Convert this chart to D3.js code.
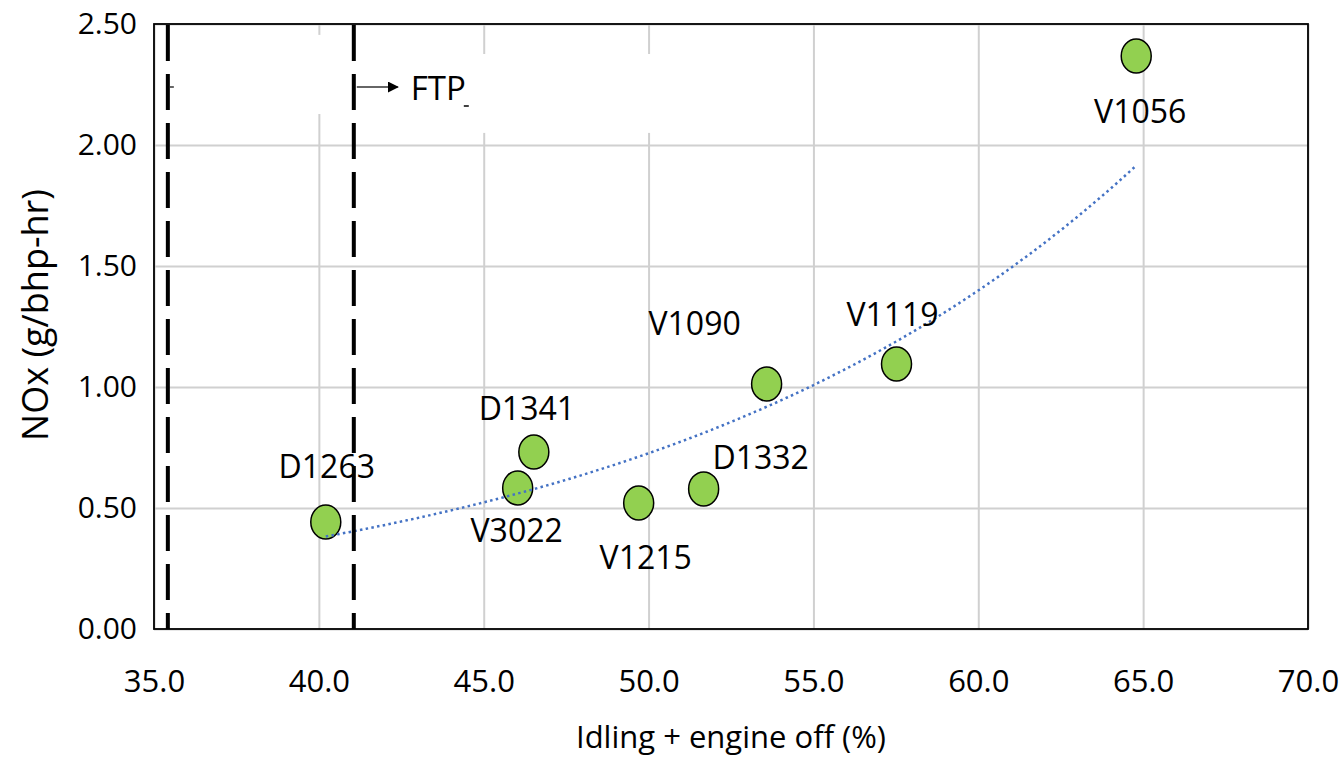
<!DOCTYPE html>
<html lang="en">
<head>
<meta charset="UTF-8">
<title>NOx vs idling + engine off</title>
<script src="https://d3js.org/d3.v7.min.js"></script>
<style>
  body { margin: 0; background: #fff; font-family: "Open Sans", sans-serif; }
  .grid line { stroke: #d0d0d0; stroke-width: 2px; }
  .grid path { display: none; }
  .axis path { display: none; }
  .axis text { fill: #000; font-family: "Open Sans", sans-serif; }
  .point { fill: #92d050; stroke: #000; stroke-width: 1.5px; }
  .point-label { font-size: 32px; fill: #000; }
  .trend { fill: none; stroke: #4472c4; stroke-width: 2.5px; stroke-dasharray: 2.5 3.3; }
  .ftp-line { stroke: #000; stroke-width: 4px; stroke-dasharray: 36 13; }
</style>
</head>
<body>
<svg width="1343" height="757"></svg>
<script>
// data
const vehicles  = ["D1263", "V3022", "D1341", "V1215", "D1332", "V1090", "V1119", "V1056"];
const idlingPct = [40.21, 46.03, 46.52, 49.70, 51.67, 53.58, 57.52, 64.79];
const noxValues = [0.442, 0.583, 0.731, 0.521, 0.579, 1.012, 1.095, 2.368];
const xTicks = [35, 40, 45, 50, 55, 60, 65, 70];
const yTicks = [0, 0.5, 1.0, 1.5, 2.0, 2.5];
const ftpBounds = [35.42, 41.06];

// label placement (pixels from point centre, baseline)
const labelOffsets = [[1, -44], [-1, 54], [-7, -32], [7, 66], [57, -20], [-72, -49], [-4, -38], [4, 67]];

const mLeft = 154, mRight = 1308, mTop = 24, mBottom = 629;
const svg = d3.select("svg");

const x = d3.scaleLinear().domain([35, 70]).range([mLeft, mRight]);
const y = d3.scaleLinear().domain([0, 2.5]).range([mBottom, mTop]);

// gridlines
svg.append("g").attr("class", "grid")
    .attr("transform", `translate(0,${mBottom})`)
    .call(d3.axisBottom(x).tickValues(xTicks).tickSize(-(mBottom - mTop)).tickFormat(""));
svg.append("g").attr("class", "grid")
    .attr("transform", `translate(${mLeft},0)`)
    .call(d3.axisLeft(y).tickValues(yTicks).tickSize(-(mRight - mLeft)).tickFormat(""));

// white text boxes that hide the grid near the FTP note
svg.append("rect").attr("x", x(35.55)).attr("y", y(2.455))
    .attr("width", x(40.95) - x(35.55)).attr("height", y(2.128) - y(2.455)).attr("fill", "#fff");
svg.append("rect").attr("x", x(41.2)).attr("y", y(2.376))
    .attr("width", x(54.5) - x(41.2)).attr("height", y(2.050) - y(2.376)).attr("fill", "#fff");

// frame
svg.append("rect").attr("x", mLeft).attr("y", mTop)
    .attr("width", mRight - mLeft).attr("height", mBottom - mTop)
    .attr("fill", "none").attr("stroke", "#000").attr("stroke-width", 1.8);

// axes labels
const yAxis = svg.append("g").attr("class", "axis")
    .attr("transform", `translate(${mLeft},0)`)
    .call(d3.axisLeft(y).tickValues(yTicks).tickSize(0).tickPadding(17).tickFormat(d3.format(".2f")));
yAxis.selectAll("text").style("font-size", "30px");

const xAxis = svg.append("g").attr("class", "axis")
    .attr("transform", `translate(0,${mBottom})`)
    .call(d3.axisBottom(x).tickValues(xTicks).tickSize(0).tickPadding(41).tickFormat(d3.format(".1f")));
xAxis.selectAll("text").style("font-size", "31px");

svg.append("text")
    .attr("x", (mLeft + mRight) / 2).attr("y", 748)
    .attr("text-anchor", "middle").style("font-size", "31px")
    .text("Idling + engine off (%)");

svg.append("text")
    .attr("transform", "translate(48,315) rotate(-90)")
    .attr("text-anchor", "middle").style("font-size", "36px")
    .text("NOx (g/bhp-hr)");

// points
const pts = vehicles.map((v, i) => ({ id: v, x: idlingPct[i], y: noxValues[i], off: labelOffsets[i] }));

svg.selectAll(".point").data(pts).enter().append("ellipse")
    .attr("class", "point")
    .attr("cx", d => x(d.x)).attr("cy", d => y(d.y))
    .attr("rx", 15).attr("ry", 17);

// exponential trendline fitted to the points (least squares on ln y)
const mx = d3.mean(pts, d => d.x), my = d3.mean(pts, d => Math.log(d.y));
const b = d3.sum(pts, d => (d.x - mx) * (Math.log(d.y) - my)) / d3.sum(pts, d => (d.x - mx) ** 2);
const a = Math.exp(my - b * mx);
const [x0, x1] = d3.extent(idlingPct);
const trendPts = d3.range(0, 101).map(k => x0 + (x1 - x0) * k / 100);
svg.append("path").attr("class", "trend")
    .attr("d", d3.line().x(d => x(d)).y(d => y(a * Math.exp(b * d)))(trendPts));

svg.selectAll(".point-label").data(pts).enter().append("text")
    .attr("class", "point-label")
    .attr("x", d => x(d.x) + d.off[0]).attr("y", d => y(d.y) + d.off[1])
    .attr("text-anchor", "middle")
    .text(d => d.id);

// FTP range lines
svg.selectAll(".ftp-line").data(ftpBounds).enter().append("line")
    .attr("class", "ftp-line")
    .attr("x1", d => x(d)).attr("x2", d => x(d))
    .attr("y1", mTop + 1).attr("y2", mBottom);

// arrow + note
const defs = svg.append("defs");
defs.append("marker").attr("id", "head")
    .attr("viewBox", "0 0 10 10").attr("refX", 9).attr("refY", 5)
    .attr("markerWidth", 11).attr("markerHeight", 11).attr("markerUnits", "userSpaceOnUse")
    .attr("orient", "auto")
    .append("path").attr("d", "M0,0L10,5L0,10Z").attr("fill", "#000");

const arrowY = 87;
svg.append("line")
    .attr("x1", x(ftpBounds[1]) + 3).attr("x2", x(ftpBounds[1]) + 44)
    .attr("y1", arrowY).attr("y2", arrowY)
    .attr("stroke", "#333").attr("stroke-width", 1.5)
    .attr("marker-end", "url(#head)");
svg.append("line")
    .attr("x1", x(ftpBounds[0]) + 2).attr("x2", x(ftpBounds[0]) + 6)
    .attr("y1", arrowY).attr("y2", arrowY)
    .attr("stroke", "#333").attr("stroke-width", 1.5);

svg.append("text")
    .attr("x", x(ftpBounds[1]) + 57).attr("y", 100)
    .style("font-size", "33px")
    .text("FTP");
svg.append("line")
    .attr("x1", x(ftpBounds[1]) + 110).attr("x2", x(ftpBounds[1]) + 115)
    .attr("y1", 106).attr("y2", 106)
    .attr("stroke", "#000").attr("stroke-width", 1.5);
</script>
</body>
</html>
